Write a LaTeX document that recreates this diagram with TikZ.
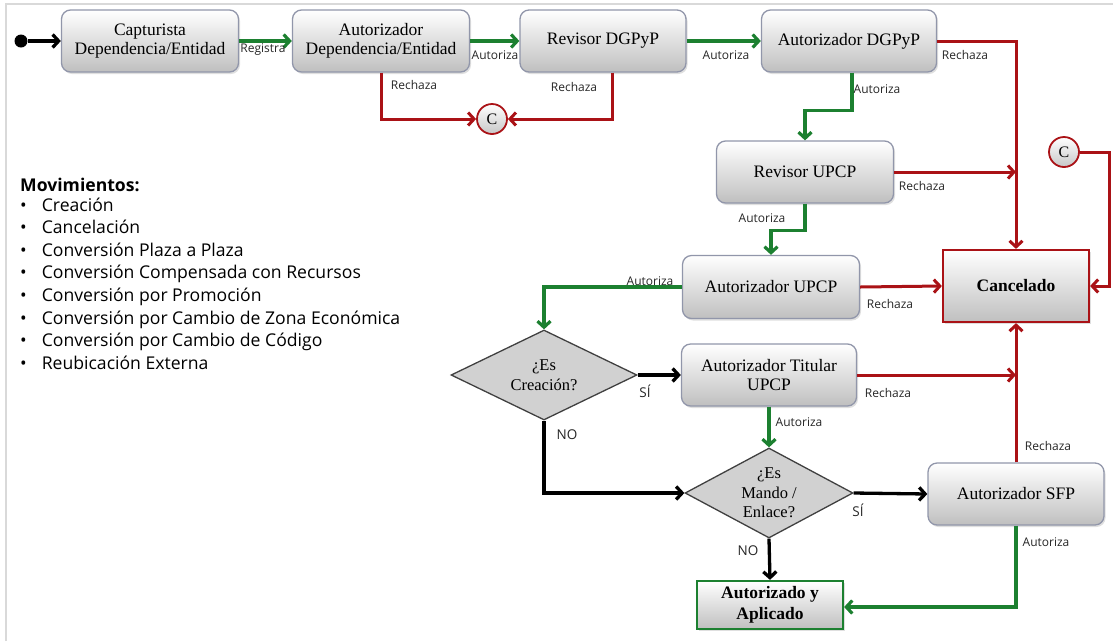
\documentclass[tikz,border=0pt]{standalone}
\usepackage{fontspec}
\setmainfont{Liberation Serif}
\newfontfamily\lblfont{Open Sans}
\usetikzlibrary{arrows.meta,shapes.geometric,shadows}
\definecolor{gr}{RGB}{28,128,48}
\definecolor{rd}{RGB}{170,18,22}
\definecolor{bd}{RGB}{145,150,170}
\tikzset{
  box/.style={draw=bd, line width=1.3pt, rounded corners=9pt, top color=white, bottom color=black!25,
    drop shadow={opacity=0.25, shadow xshift=1.5pt, shadow yshift=-2pt},
    align=center, inner sep=0pt, font=\rmfamily\fontsize{17.5}{19}\selectfont},
  endbox/.style={line width=2.2pt, top color=white, bottom color=black!25,
    drop shadow={opacity=0.25, shadow xshift=1.5pt, shadow yshift=-2pt},
    align=center, inner sep=0pt, font=\rmfamily\fontsize{17.5}{21}\selectfont\bfseries},
  dec/.style={diamond, draw=black!75, line width=1.3pt, fill=black!18, aspect=2,
    align=center, inner sep=0pt, font=\rmfamily\fontsize{16.5}{19.5}\selectfont},
  conn/.style={circle, draw=rd, line width=1.8pt, top color=white, bottom color=black!22,
    minimum size=30pt, inner sep=0pt, font=\rmfamily\fontsize{16}{18}\selectfont},
  gline/.style={draw=gr, line width=3.2pt, -{Straight Barb[length=6pt,width=13pt]}},
  rline/.style={draw=rd, line width=3pt, -{Straight Barb[length=6pt,width=13pt]}},
  kline/.style={draw=black, line width=3.3pt, -{Straight Barb[length=6pt,width=13pt]}},
  lbl/.style={font=\lblfont\fontsize{12}{13}\selectfont, inner sep=0pt, text=black!85},
  yn/.style={font=\lblfont\fontsize{13.5}{15}\selectfont, inner sep=0pt, text=black!85},
}
\begin{document}
\begin{tikzpicture}[x=1pt,y=-1pt]
\useasboundingbox (0,0) rectangle (1113,641);
\draw[black!15, line width=1.5pt] (6,641) -- (6,4) -- (1113,4);

% nodes
\node[circle, fill=black, minimum size=13pt, inner sep=0pt] (start) at (21,41) {};
\node[box, minimum width=177pt, minimum height=62pt] (cap) at (150,41) {Capturista\\Dependencia/Entidad};
\node[box, minimum width=177pt, minimum height=62pt] (adep) at (381,41) {Autorizador\\Dependencia/Entidad};
\node[box, minimum width=166pt, minimum height=62pt] (rdg) at (603,41) {Revisor DGPyP};
\node[box, minimum width=175pt, minimum height=62pt] (adg) at (849,41) {Autorizador DGPyP};
\node[conn] (c1) at (492,119) {C};
\node[conn] (c2) at (1064,152) {C};
\node[box, minimum width=177pt, minimum height=62pt] (rup) at (805,172) {Revisor UPCP};
\node[box, minimum width=177pt, minimum height=63pt] (aup) at (771,287) {Autorizador UPCP};
\node[endbox, draw=rd, minimum width=146pt, minimum height=72pt] (canc) at (1016,286) {Cancelado};
\node[dec, minimum width=186pt, minimum height=90pt] (d1) at (544,375) {¿Es\\Creación?};
\node[box, minimum width=175pt, minimum height=62pt] (att) at (769,375) {Autorizador Titular\\UPCP};
\node[dec, minimum width=168pt, minimum height=90pt] (d2) at (769,493) {¿Es\\Mando /\\Enlace?};
\node[box, minimum width=176pt, minimum height=62pt] (sfp) at (1016,494) {Autorizador SFP};
\node[endbox, draw=gr, minimum width=146pt, minimum height=48pt] (aa) at (770,605) {Autorizado y\\Aplicado};

% connectors
\draw[kline] (start) -- (cap);
\draw[gline] (cap) -- (adep);
\draw[gline] (adep) -- (rdg);
\draw[gline] (rdg) -- (adg);
\draw[rline] (adep.south) |- (c1);
\draw[rline] ([xshift=9pt]rdg.south) |- (c1);
\draw[rline] (adg.east) -| (canc.north);
\draw[gline] ([xshift=3pt]adg.south) -- ++(0,38) -| (rup.north);
\draw[rline] (rup.east) -- (rup.east -| canc.north);
\draw[gline] (rup.south) -- ++(0,27) -| (aup.north);
\draw[rline] (aup.east) -- (canc.west);
\draw[gline] (aup.west) -| (d1.north);
\draw[rline] (c2.east) -- ++(30,0) |- (canc.east);
\draw[kline] (d1.east) -- (att.west);
\draw[rline] (att.east) -- (att.east -| canc.south);
\draw[gline] (att.south) -- (d2.north);
\draw[kline] (d1.south) |- (d2.west);
\draw[kline] (d2.east) -- (sfp.west);
\draw[kline] (d2.south) -- (aa.north);
\draw[rline] (sfp.north) -- (canc.south);
\draw[gline] (sfp.south) |- ([yshift=-2pt]aa.east);

% labels
\node[lbl] (l1) at (263,50) {Registra};
\node[lbl] (l2) at (495,55) {Autoriza};
\node[lbl] (l3) at (726,55) {Autoriza};
\node[lbl] (l4) at (414,85) {Rechaza};
\node[lbl] (l5) at (574,87) {Rechaza};
\node[lbl] (l6) at (965,55) {Rechaza};
\node[lbl] (l7) at (877,89) {Autoriza};
\node[lbl] (l8) at (922,186) {Rechaza};
\node[lbl] (l9) at (762,218) {Autoriza};
\node[lbl] (l10) at (650,281) {Autoriza};
\node[lbl] (l11) at (890,304) {Rechaza};
\node[lbl] (l12) at (888,393) {Rechaza};
\node[lbl] (l13) at (799,422) {Autoriza};
\node[lbl] (l14) at (1048,446) {Rechaza};
\node[lbl] (l15) at (1046,542) {Autoriza};
\node[yn] (y1) at (645,391) {SÍ};
\node[yn] (n1) at (567,435) {NO};
\node[yn] (y2) at (858,510) {SÍ};
\node[yn] (n2) at (748,551) {NO};

% legend
\node[anchor=north west, inner sep=0pt, align=left, font=\lblfont\fontsize{17.6}{22.6}\selectfont] (legend) at (20,178)
{\textbf{Movimientos:}\\[-3pt]
\textbullet\hspace{15pt}Creación\\
\textbullet\hspace{15pt}Cancelación\\
\textbullet\hspace{15pt}Conversión Plaza a Plaza\\
\textbullet\hspace{15pt}Conversión Compensada con Recursos\\
\textbullet\hspace{15pt}Conversión por Promoción\\
\textbullet\hspace{15pt}Conversión por Cambio de Zona Económica\\
\textbullet\hspace{15pt}Conversión por Cambio de Código\\
\textbullet\hspace{15pt}Reubicación Externa};
\end{tikzpicture}
\end{document}
